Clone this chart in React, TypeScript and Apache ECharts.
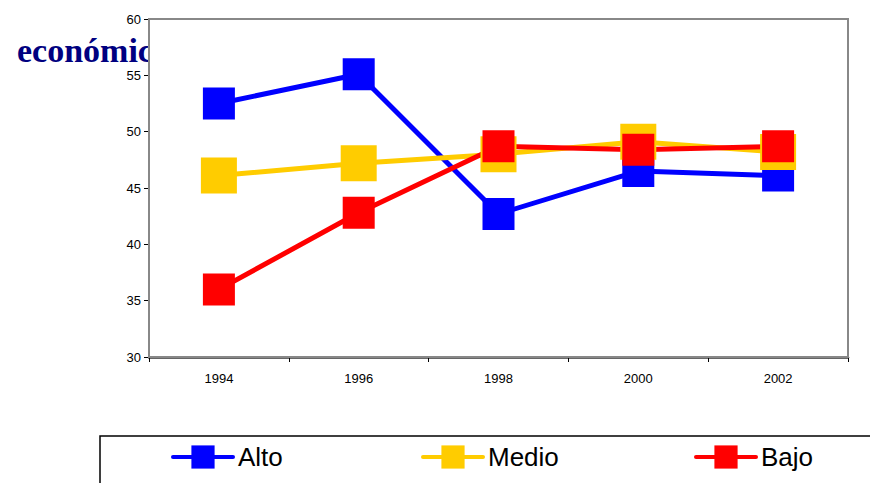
import React, { useEffect, useRef } from "react";
import * as echarts from "echarts";

const years = ["1994", "1996", "1998", "2000", "2002"];
const alto = [52.5, 55.1, 42.7, 46.5, 46.1];
const medio = [46.1, 47.2, 48.0, 49.1, 48.2];
const bajo = [36.0, 42.8, 48.7, 48.4, 48.7];
const yTicks = { min: 30, max: 60, interval: 5 };

export default function App() {
  const ref = useRef<HTMLDivElement>(null);
  useEffect(() => {
    document.body.style.margin = "0";
    const chart = echarts.init(ref.current!, null, { renderer: "svg" });
    const font = "Arial, 'Liberation Sans', sans-serif";
    const mkLegend = (name: string, left: number) => ({
      data: [name],
      left,
      top: 444,
      padding: 0,
      itemWidth: 60,
      itemHeight: 29,
      itemGap: 0,
      textStyle: { fontSize: 26, color: "#000", fontFamily: font },
      lineStyle: { width: 4, cap: "round" },
      selectedMode: false,
    });
    const mkSeries = (name: string, data: number[], color: string, size: number) => ({
      name,
      type: "line",
      data,
      symbol: "rect",
      symbolSize: size,
      lineStyle: { width: 5, color },
      itemStyle: { color },
    });
    chart.setOption({
      animation: false,
      backgroundColor: "#fff",
      grid: {
        left: 149,
        right: 22,
        top: 19,
        bottom: 126,
        show: true,
        backgroundColor: "#fff",
        borderColor: "#888",
        borderWidth: 2,
        z: 1,
      },
      graphic: [
        {
          type: "text",
          x: 17,
          y: 67,
          z: -10,
          zlevel: 0,
          style: {
            text: "económico",
            font: "bold 34px 'Liberation Serif', 'Times New Roman', serif",
            fill: "#000080",
            textVerticalAlign: "bottom",
          },
        },
        {
          type: "rect",
          shape: { x: 100, y: 436, width: 820, height: 90 },
          style: { fill: "none", stroke: "#000", lineWidth: 1.5 },
        },
      ],
      legend: [mkLegend("Alto", 171), mkLegend("Medio", 421), mkLegend("Bajo", 694)],
      xAxis: {
        type: "category",
        data: years,
        boundaryGap: true,
        axisLine: { show: true, lineStyle: { color: "#333", width: 2.5 } },
        axisTick: { show: true, inside: false, length: 5, alignWithLabel: false, lineStyle: { color: "#000" } },
        axisLabel: { fontSize: 13, color: "#000", fontFamily: font, margin: 15 },
        splitLine: { show: false },
      },
      yAxis: {
        type: "value",
        min: yTicks.min,
        max: yTicks.max,
        interval: yTicks.interval,
        axisLine: { show: true, lineStyle: { color: "#000", width: 1.5 } },
        axisTick: { show: true, inside: false, length: 5, lineStyle: { color: "#000" } },
        axisLabel: { fontSize: 13, color: "#000", fontFamily: font, margin: 8 },
        splitLine: { show: false },
      },
      series: [
        mkSeries("Alto", alto, "#0000FF", 32),
        mkSeries("Medio", medio, "#FFCC00", 36),
        mkSeries("Bajo", bajo, "#FF0000", 32),
      ],
    });
    return () => chart.dispose();
  }, []);
  return <div ref={ref} style={{ width: 870, height: 483 }} />;
}
